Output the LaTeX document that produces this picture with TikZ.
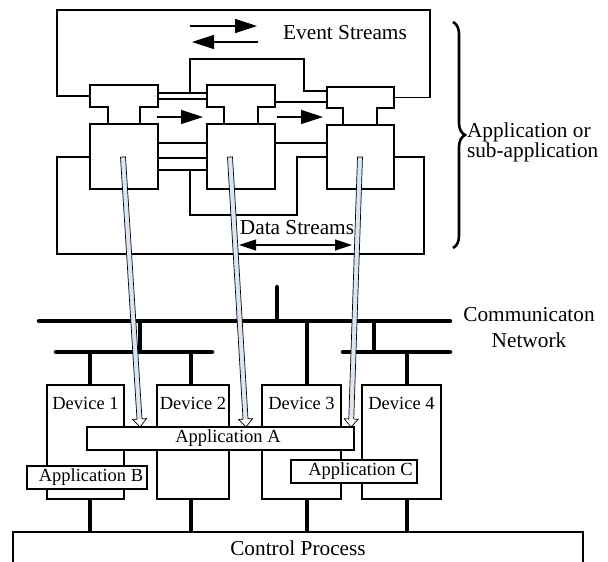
\documentclass[tikz,border=0pt]{standalone}
\usepackage{fontspec}
\setmainfont{Liberation Serif}
\usetikzlibrary{arrows.meta,calc,decorations.pathreplacing}
\definecolor{arrowfill}{RGB}{220,230,242}
\newcommand\hollowarrow[2]{%
  \coordinate (hh) at ($(#2)!8pt!(#1)$);
  \fill[white] ($(hh)!7pt!90:(#2)$) -- (#2) -- ($(hh)!7pt!-90:(#2)$) -- cycle;
  \fill[arrowfill] ($(#1)!2.5pt!90:(#2)$) -- ($(hh)!2.5pt!90:(#2)$) -- ($(hh)!2.5pt!-90:(#2)$) -- ($(#1)!2.5pt!-90:(#2)$) -- cycle;
  \draw[line width=0.7pt] ($(#1)!2.5pt!90:(#2)$) -- ($(hh)!2.5pt!90:(#2)$) -- ($(hh)!7pt!90:(#2)$) -- (#2) -- ($(hh)!7pt!-90:(#2)$) -- ($(hh)!2.5pt!-90:(#2)$) -- ($(#1)!2.5pt!-90:(#2)$) -- cycle;
}
\begin{document}
\begin{tikzpicture}[x=1pt,y=-1pt, inner sep=0pt, outer sep=0pt,
  bigfont/.style={font=\fontsize{21.3}{20}\selectfont},
  netfont/.style={font=\fontsize{21.3}{26}\selectfont},
  smallfont/.style={font=\fontsize{18.5}{20}\selectfont},
  compbox/.style={draw, line width=2.2pt, fill=white},
  tstyle/.style={line width=2.2pt, line join=miter},
  thinline/.style={line width=1.2pt},
  devbox/.style={draw, line width=1.5pt},
  appbox/.style={draw, line width=2.2pt, fill=white, smallfont},
  bus/.style={line width=4.5pt, line cap=round},
  drop/.style={line width=4.2pt},
  bigarr/.style={line width=1.2pt, -{Triangle[length=22pt,width=14pt]}},
  dataarr/.style={line width=1.2pt, {Triangle[length=17pt,width=11pt]}-{Triangle[length=17pt,width=11pt]}},
]
\clip (0,0) rectangle (608,562);

% ---------- upper part: components ----------
\node[minimum width=68, minimum height=22] (c1t) at (124,96) {};
\node[minimum width=68, minimum height=22] (c2t) at (241,96) {};
\node[minimum width=67, minimum height=21] (c3t) at (360.5,97.5) {};

% outer loops
\draw[thinline] (c1t.west) -| (57,10) -| (c3t.east -| 430,0) -- (c3t.east);
% event connections (upper)
\draw[thinline] (c1t.east |- 0,93) -- (c2t.west |- 0,93);
\draw[thinline] (c1t.east |- 0,99) -- (c2t.west |- 0,99);
\draw[thinline] (190,93) |- (304,59) |- (c3t.west |- 0,91);
\draw[thinline] (c2t.east |- 0,102) -- (c3t.west |- 0,102);

\node[compbox, minimum width=68, minimum height=65] (c1b) at (124,156.5) {};
\node[compbox, minimum width=68, minimum height=65] (c2b) at (241,156.5) {};
\node[compbox, minimum width=67, minimum height=64] (c3b) at (360.5,157) {};

% data connections (lower)
\draw[thinline] (c1b.east |- 0,143) -- (c2b.west |- 0,143);
\draw[thinline] (c1b.east |- 0,158) -- (c2b.west |- 0,158);
\draw[thinline] (c1b.east |- 0,170) -- (c2b.west |- 0,170);
\draw[thinline] (190,170) |- (297,215) |- (c3b.west |- 0,157);
\draw[thinline] (c2b.east |- 0,143) -- (c3b.west |- 0,143);
\draw[thinline] (c1b.west |- 0,157) -| (57,254) -| (424,157) -- (c3b.east |- 0,157);

% T shapes
\draw[tstyle] (108,0 |- c1b.north) -- (108,0 |- c1t.south) -- (c1t.south west) -- (c1t.north west) -- (c1t.north east) -- (c1t.south east) -- (140,0 |- c1t.south) -- (140,0 |- c1b.north);
\draw[tstyle] (224,0 |- c2b.north) -- (224,0 |- c2t.south) -- (c2t.south west) -- (c2t.north west) -- (c2t.north east) -- (c2t.south east) -- (258,0 |- c2t.south) -- (258,0 |- c2b.north);
\draw[tstyle] (343,0 |- c3b.north) -- (343,0 |- c3t.south) -- (c3t.south west) -- (c3t.north west) -- (c3t.north east) -- (c3t.south east) -- (377,0 |- c3t.south) -- (377,0 |- c3b.north);

% stream arrows and labels
\draw[bigarr] (190,26) -- (257,26);
\draw[bigarr] (258,42) -- (192,42);
\node[bigfont] (ev) at (345,33) {Event Streams};
\draw[bigarr] (157,117) -- (203,117);
\draw[bigarr] (277,117) -- (323,117);
\node[bigfont] (ds) at (297,228) {Data Streams};
\draw[dataarr] (239,245) -- (352,245);

% brace
\draw[decorate, decoration={brace, amplitude=12pt}, line width=2.6pt] (453,22) -- (453,248);
\node[bigfont, anchor=west, align=left] (appl) at (467,142) {Application or\\sub-application};

% ---------- network ----------
\draw[bus] (39,321) -- (450,321);
\draw[line width=4.2pt, line cap=round] (277,287) -- (277,321);
\draw[bus] (56,352) -- (212,352);
\draw[bus] (343,352) -- (450,352);
\draw[drop] (140,321) -- (140,352);
\draw[drop] (374,321) -- (374,352);
\node[netfont, align=center] (net) at (529,328) {Communicaton\\Network};

% ---------- devices ----------
\node[devbox, minimum width=77, minimum height=114] (d1) at (85.5,442) {};
\node[devbox, minimum width=72, minimum height=114] (d2) at (193,442) {};
\node[devbox, minimum width=79, minimum height=114] (d3) at (301.5,442) {};
\node[devbox, minimum width=79, minimum height=114] (d4) at (401.5,442) {};
\node[smallfont] (d1l) at (85.5,403) {Device 1};
\node[smallfont] (d2l) at (193,403) {Device 2};
\node[smallfont] (d3l) at (301.5,403) {Device 3};
\node[smallfont] (d4l) at (401.5,403) {Device 4};

\draw[drop] (90,352) -- (d1.north -| 90,0);
\draw[drop] (191,352) -- (d2.north -| 191,0);
\draw[drop] (307,321) -- (d3.north -| 307,0);
\draw[drop] (407,352) -- (d4.north -| 407,0);

% ---------- mapping arrows ----------
\coordinate (a1s) at (123,157);
\coordinate (a1e) at (140,427);
\coordinate (a2s) at (230,157);
\coordinate (a2e) at (246,427);
\coordinate (a3s) at (360,157);
\coordinate (a3e) at (351,427);
\hollowarrow{a1s}{a1e}
\hollowarrow{a2s}{a2e}
\hollowarrow{a3s}{a3e}

% ---------- applications ----------
\node[appbox, minimum width=267, minimum height=23] (appA) at (220.5,438.5) {\hspace*{15pt}Application A};
\node[appbox, minimum width=120, minimum height=23] (appB) at (87,477.5) {\hspace*{8pt}Application B};
\node[appbox, minimum width=126, minimum height=23] (appC) at (354,471.5) {\hspace*{13pt}Application C};

% ---------- control process ----------
\node[draw, line width=1.5pt, minimum width=570, minimum height=60, anchor=north] (cp) at (298,532) {};
\node[bigfont] (cpl) at (298,548) {Control Process};
\draw[drop] (d1.south -| 90,0) -- (cp.north -| 90,0);
\draw[drop] (d2.south -| 191,0) -- (cp.north -| 191,0);
\draw[drop] (d3.south -| 307,0) -- (cp.north -| 307,0);
\draw[drop] (d4.south -| 407,0) -- (cp.north -| 407,0);
\end{tikzpicture}
\end{document}
